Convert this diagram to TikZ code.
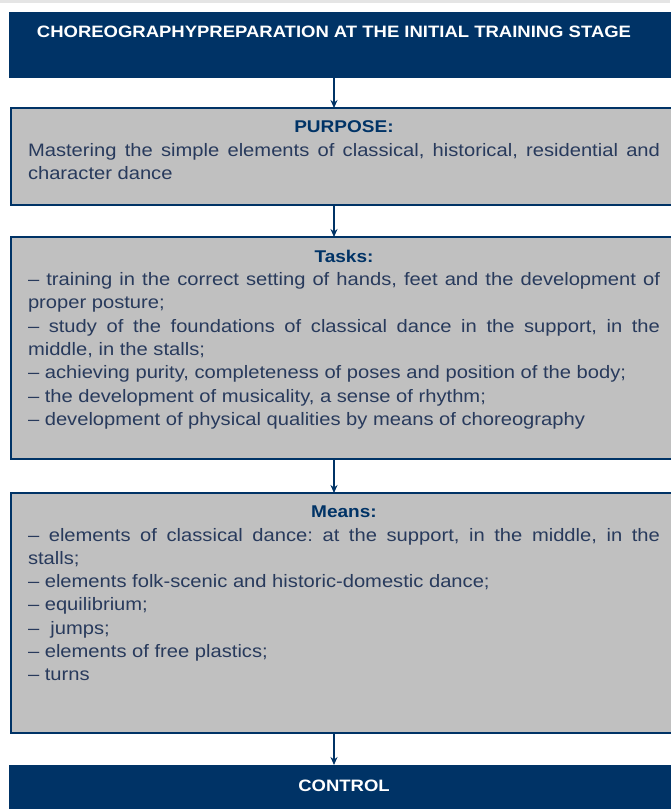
\documentclass[tikz,border=0pt]{standalone}
\usepackage{fontspec}
\setmainfont[FakeStretch=1.12]{Liberation Sans}
\usepackage{tikz}
\definecolor{mynavy}{RGB}{0,51,102}
\definecolor{mygray}{RGB}{192,192,192}
\definecolor{mytext}{RGB}{40,58,92}
\usetikzlibrary{positioning,arrows.meta}
\newcommand{\boxhead}[1]{{\centering\color{mynavy}\fontsize{17}{23.3}\selectfont\bfseries #1\par}}
\frenchspacing

\begin{document}
\begin{tikzpicture}[x=1pt,y=-1pt,
    every node/.style={inner sep=0pt,outer sep=0pt},
    darkbox/.style={fill=mynavy,minimum width=670pt,text=white,font=\fontsize{16.5}{20}\selectfont\bfseries},
    graybox/.style={draw=mynavy,line width=1.5pt,fill=mygray,minimum width=666pt},
    boxtext/.style={text width=632pt,align=justify,text=mytext,font=\fontsize{18}{23.3}\selectfont},
    flow/.style={draw=mynavy,line width=1.5pt,-{Stealth[length=8pt,width=7pt]}}
    ]
    \useasboundingbox (0,0) rectangle (670,809);
    \fill[gray!20] (0,0) rectangle (670,3);

    % the boxes
    \node[darkbox,text height=25pt,text depth=41pt] (title) at (344,45) {CHOREOGRAPHYPREPARATION AT THE INITIAL TRAINING STAGE\hspace*{20pt}};
    \node[graybox,minimum height=97pt,below=30pt of title] (purpose) {};
    \node[graybox,minimum height=222pt,below=32pt of purpose] (tasks) {};
    \node[graybox,minimum height=240pt,below=34pt of tasks] (means) {};
    \node[darkbox,text height=26pt,text depth=40pt,below=32pt of means] (control) {CONTROL};

    % the texts
    \node[boxtext,below right=13pt and 17pt of purpose.north west] (purposetext) {\boxhead{PURPOSE:}Mastering the simple elements of classical, historical, residential and\linebreak character dance};
    \node[boxtext,below right=13pt and 17pt of tasks.north west] (taskstext) {\boxhead{Tasks:}– training in the correct setting of hands, feet and the development of\linebreak proper posture;\par
    – study of the foundations of classical dance in the support, in the\linebreak middle, in the stalls;\par
    – achieving purity, completeness of poses and position of the body;\par
    – the development of musicality, a sense of rhythm;\par
    – development of physical qualities by means of choreography};
    \node[boxtext,below right=13pt and 17pt of means.north west] (meanstext) {\boxhead{Means:}– elements of classical dance: at the support, in the middle, in the\linebreak stalls;\par
    – elements folk-scenic and historic-domestic dance;\par
    – equilibrium;\par
    –~ jumps;\par
    – elements of free plastics;\par
    – turns};

    % the arrows
    \coordinate (axis) at (334,0);
    \foreach \a/\b in {title/purpose,purpose/tasks,tasks/means,means/control}
    \draw[flow] (\a.south -| axis) -- (\b.north -| axis);
\end{tikzpicture}
\end{document}
